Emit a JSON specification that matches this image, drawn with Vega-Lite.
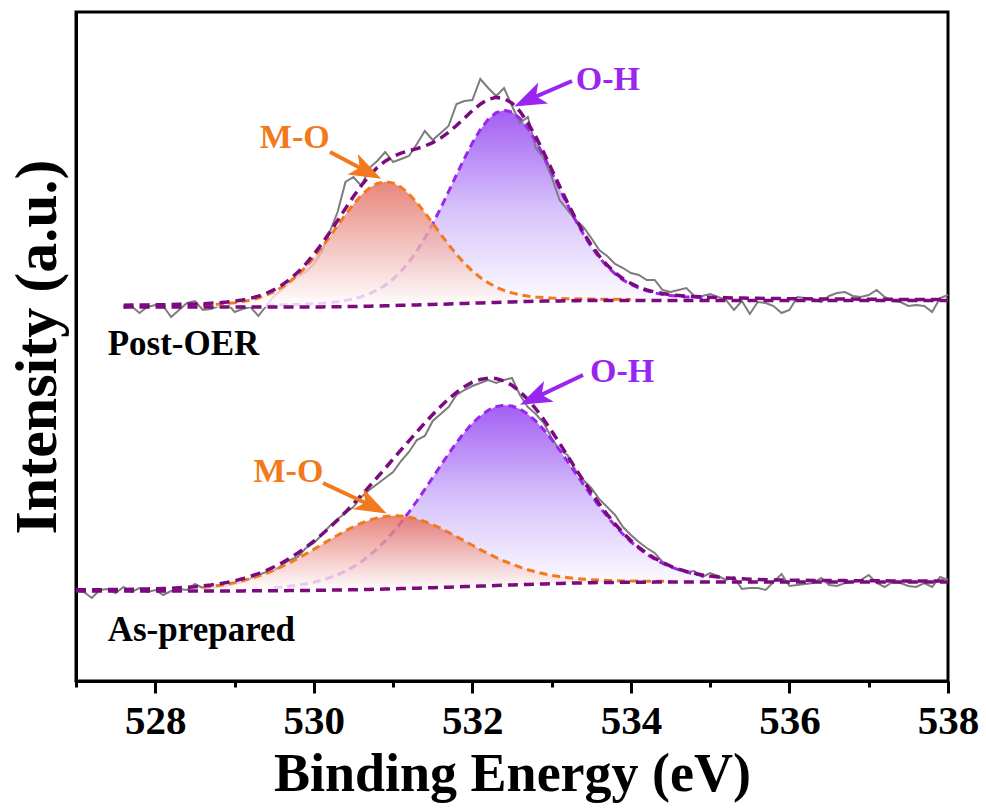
{
"$schema": "https://vega.github.io/schema/vega-lite/v6.json",
"width": 872, "height": 669,
"autosize": {"type": "none"},
"padding": {"left": 76, "top": 12, "right": 38, "bottom": 130},
"background": "white",
"config": {
  "view": {"stroke": "black", "strokeWidth": 3},
  "font": "Liberation Serif",
  "axis": {"domainColor": "black", "domainWidth": 3, "tickColor": "black", "tickWidth": 3, "grid": false,
           "labelFont": "Liberation Serif", "labelFontWeight": "bold", "labelFontSize": 41, "labelColor": "black",
           "titleFont": "Liberation Serif", "titleFontWeight": "bold", "titleColor": "black"}
},
"datasets": {
"fit": [
{"s":"P","e":527.6,"raw":373,"bg":374,"env":375.8},
{"s":"P","e":527.7,"raw":375,"bg":374,"env":375.9},
{"s":"P","e":527.8,"raw":368,"bg":374,"env":376.0},
{"s":"P","e":527.9,"raw":374,"bg":374,"env":376.1},
{"s":"P","e":528.0,"raw":376,"bg":374,"env":376.2},
{"s":"P","e":528.1,"raw":375,"bg":374,"env":376.3},
{"s":"P","e":528.2,"raw":364,"bg":374,"env":376.4},
{"s":"P","e":528.3,"raw":371,"bg":374,"env":376.7},
{"s":"P","e":528.4,"raw":378,"bg":374,"env":376.8},
{"s":"P","e":528.5,"raw":380,"bg":374,"env":377.1},
{"s":"P","e":528.6,"raw":371,"bg":374,"mo":376.1,"env":377.3},
{"s":"P","e":528.7,"raw":372,"bg":374,"mo":376.5,"env":377.8},
{"s":"P","e":528.8,"raw":375,"bg":374,"mo":376.9,"env":378.2},
{"s":"P","e":528.9,"raw":379,"bg":374,"mo":377.5,"env":378.9},
{"s":"P","e":529.0,"raw":369,"bg":374,"mo":378.3,"env":379.8},
{"s":"P","e":529.1,"raw":372,"bg":374,"mo":379.4,"env":381.0},
{"s":"P","e":529.2,"raw":374,"bg":374,"mo":381.0,"env":382.7},
{"s":"P","e":529.3,"raw":365,"bg":374,"mo":383.0,"env":384.8},
{"s":"P","e":529.4,"raw":375,"bg":374,"mo":385.8,"oh":375.9,"env":387.7},
{"s":"P","e":529.5,"raw":385,"bg":374,"mo":389.3,"oh":376.0,"env":391.3},
{"s":"P","e":529.6,"raw":391,"bg":374,"mo":393.9,"oh":376.2,"env":396.1},
{"s":"P","e":529.7,"raw":399,"bg":374,"mo":399.5,"oh":376.4,"env":401.9},
{"s":"P","e":529.8,"raw":405,"bg":374,"mo":406.3,"oh":376.6,"env":408.9},
{"s":"P","e":529.9,"raw":409,"bg":374,"mo":414.2,"oh":376.9,"env":417.1},
{"s":"P","e":530.0,"raw":417,"bg":374.1,"mo":423.4,"oh":377.3,"env":426.6},
{"s":"P","e":530.1,"raw":429,"bg":374.1,"mo":433.5,"oh":377.7,"env":437.1},
{"s":"P","e":530.2,"raw":449,"bg":374.2,"mo":444.3,"oh":378.4,"env":448.5},
{"s":"P","e":530.3,"raw":469,"bg":374.3,"mo":455.5,"oh":379.3,"env":460.5},
{"s":"P","e":530.4,"raw":499,"bg":374.4,"mo":466.5,"oh":380.5,"env":472.6},
{"s":"P","e":530.5,"raw":504,"bg":374.5,"mo":476.8,"oh":382.1,"env":484.4},
{"s":"P","e":530.6,"raw":495,"bg":374.7,"mo":485.9,"oh":384.3,"env":495.5},
{"s":"P","e":530.7,"raw":513,"bg":374.8,"mo":492.9,"oh":387.2,"env":505.3},
{"s":"P","e":530.8,"raw":520,"bg":375.0,"mo":497.5,"oh":391.0,"env":513.5},
{"s":"P","e":530.9,"raw":529,"bg":375.2,"mo":499.2,"oh":395.8,"env":519.8},
{"s":"P","e":531.0,"raw":519,"bg":375.4,"mo":497.9,"oh":402.0,"env":524.5},
{"s":"P","e":531.1,"raw":522,"bg":375.7,"mo":493.8,"oh":409.8,"env":527.9},
{"s":"P","e":531.2,"raw":525,"bg":375.9,"mo":487.1,"oh":419.1,"env":530.3},
{"s":"P","e":531.3,"raw":537,"bg":376.1,"mo":478.4,"oh":430.1,"env":532.4},
{"s":"P","e":531.4,"raw":550,"bg":376.3,"mo":468.4,"oh":442.8,"env":534.9},
{"s":"P","e":531.5,"raw":541,"bg":376.6,"mo":457.8,"oh":457.2,"env":538.4},
{"s":"P","e":531.6,"raw":548,"bg":376.8,"mo":446.9,"oh":472.8,"env":542.9},
{"s":"P","e":531.7,"raw":555,"bg":377.0,"mo":436.4,"oh":489.3,"env":548.7},
{"s":"P","e":531.8,"raw":577,"bg":377.3,"mo":426.6,"oh":506.2,"env":555.5},
{"s":"P","e":531.9,"raw":580,"bg":377.5,"mo":417.7,"oh":522.7,"env":562.9},
{"s":"P","e":532.0,"raw":581,"bg":377.8,"mo":410.1,"oh":538.1,"env":570.4},
{"s":"P","e":532.1,"raw":602,"bg":378.0,"mo":403.5,"oh":551.3,"env":576.8},
{"s":"P","e":532.2,"raw":593,"bg":378.3,"mo":398.2,"oh":561.7,"env":581.6},
{"s":"P","e":532.3,"raw":585,"bg":378.5,"mo":393.8,"oh":568.3,"env":583.6},
{"s":"P","e":532.4,"raw":593,"bg":378.8,"mo":390.6,"oh":570.8,"env":582.6},
{"s":"P","e":532.5,"raw":575,"bg":379.1,"mo":388.1,"oh":568.9,"env":577.9},
{"s":"P","e":532.6,"raw":558,"bg":379.3,"mo":386.3,"oh":562.7,"env":569.7},
{"s":"P","e":532.7,"raw":564,"bg":379.5,"mo":384.9,"oh":552.8,"env":558.2},
{"s":"P","e":532.8,"raw":533,"bg":379.7,"mo":384.0,"oh":540.0,"env":544.3},
{"s":"P","e":532.9,"raw":523,"bg":379.9,"mo":383.4,"oh":525.1,"env":528.6},
{"s":"P","e":533.0,"raw":504,"bg":380.0,"mo":382.9,"oh":508.9,"env":511.8},
{"s":"P","e":533.1,"raw":481,"bg":380.1,"mo":382.6,"oh":492.4,"env":494.9},
{"s":"P","e":533.2,"raw":471,"bg":380.2,"mo":382.3,"oh":476.2,"env":478.3},
{"s":"P","e":533.3,"raw":461,"bg":380.3,"mo":382.2,"oh":460.9,"env":462.8},
{"s":"P","e":533.4,"raw":454,"bg":380.4,"mo":382.1,"oh":446.9,"env":448.6},
{"s":"P","e":533.5,"raw":443,"bg":380.4,"mo":382.0,"oh":434.4,"env":436.0},
{"s":"P","e":533.6,"raw":431,"bg":380.4,"mo":381.8,"oh":423.6,"env":425.0},
{"s":"P","e":533.7,"raw":425,"bg":380.5,"mo":381.8,"oh":414.6,"env":415.9},
{"s":"P","e":533.8,"raw":417,"bg":380.5,"mo":381.7,"oh":407.1,"env":408.3},
{"s":"P","e":533.9,"raw":413,"bg":380.5,"mo":381.7,"oh":401.1,"env":402.3},
{"s":"P","e":534.0,"raw":408,"bg":380.5,"mo":381.6,"oh":396.5,"env":397.6},
{"s":"P","e":534.1,"raw":406,"bg":380.5,"oh":392.9,"env":393.9},
{"s":"P","e":534.2,"raw":401,"bg":380.5,"oh":390.1,"env":391.1},
{"s":"P","e":534.3,"raw":401,"bg":380.5,"oh":388.1,"env":389.0},
{"s":"P","e":534.4,"raw":391,"bg":380.5,"oh":386.6,"env":387.5},
{"s":"P","e":534.5,"raw":389,"bg":380.5,"oh":385.5,"env":386.3},
{"s":"P","e":534.6,"raw":391,"bg":380.5,"oh":384.7,"env":385.5},
{"s":"P","e":534.7,"raw":393,"bg":380.5,"oh":384.1,"env":384.8},
{"s":"P","e":534.8,"raw":385,"bg":380.5,"oh":383.7,"env":384.4},
{"s":"P","e":534.9,"raw":385,"bg":380.5,"oh":383.4,"env":384.1},
{"s":"P","e":535.0,"raw":387,"bg":380.5,"oh":383.1,"env":383.7},
{"s":"P","e":535.1,"raw":384,"bg":380.5,"env":383.5},
{"s":"P","e":535.2,"raw":381,"bg":380.5,"env":383.3},
{"s":"P","e":535.3,"raw":371,"bg":380.5,"env":383.0},
{"s":"P","e":535.4,"raw":380,"bg":380.5,"env":382.9},
{"s":"P","e":535.5,"raw":367,"bg":380.5,"env":382.8},
{"s":"P","e":535.6,"raw":379,"bg":380.5,"env":382.7},
{"s":"P","e":535.7,"raw":378,"bg":380.5,"env":382.6},
{"s":"P","e":535.8,"raw":375,"bg":380.5,"env":382.5},
{"s":"P","e":535.9,"raw":368,"bg":380.5,"env":382.4},
{"s":"P","e":536.0,"raw":371,"bg":380.5,"env":382.3},
{"s":"P","e":536.1,"raw":384,"bg":380.5,"env":382.3},
{"s":"P","e":536.2,"raw":383,"bg":380.5,"env":382.2},
{"s":"P","e":536.3,"raw":382,"bg":380.5,"env":382.1},
{"s":"P","e":536.4,"raw":379,"bg":380.5,"env":382.1},
{"s":"P","e":536.5,"raw":385,"bg":380.5,"env":382.0},
{"s":"P","e":536.6,"raw":388,"bg":380.5,"env":382.0},
{"s":"P","e":536.7,"raw":389,"bg":380.5,"env":381.9},
{"s":"P","e":536.8,"raw":385,"bg":380.5,"env":381.9},
{"s":"P","e":536.9,"raw":384,"bg":380.5,"env":381.8},
{"s":"P","e":537.0,"raw":386,"bg":380.5,"env":381.8},
{"s":"P","e":537.1,"raw":391,"bg":380.5,"env":381.7},
{"s":"P","e":537.2,"raw":384,"bg":380.5,"env":381.7},
{"s":"P","e":537.3,"raw":380,"bg":380.5,"env":381.7},
{"s":"P","e":537.4,"raw":379,"bg":380.5,"env":381.6},
{"s":"P","e":537.5,"raw":375,"bg":380.5,"env":381.6},
{"s":"P","e":537.6,"raw":376,"bg":380.5,"env":381.6},
{"s":"P","e":537.7,"raw":375,"bg":380.5,"env":381.5},
{"s":"P","e":537.8,"raw":369,"bg":380.5,"env":381.5},
{"s":"P","e":537.9,"raw":383,"bg":380.5,"env":381.5},
{"s":"P","e":538.0,"raw":386,"bg":380.5,"env":381.4},
{"s":"A","e":527.0,"raw":91,"bg":90,"env":91.2},
{"s":"A","e":527.1,"raw":89,"bg":90,"env":91.2},
{"s":"A","e":527.2,"raw":83,"bg":90,"env":91.3},
{"s":"A","e":527.3,"raw":91,"bg":90,"env":91.3},
{"s":"A","e":527.4,"raw":92,"bg":90,"env":91.4},
{"s":"A","e":527.5,"raw":88,"bg":90,"env":91.5},
{"s":"A","e":527.6,"raw":94,"bg":90,"env":91.6},
{"s":"A","e":527.7,"raw":89,"bg":90,"env":91.8},
{"s":"A","e":527.8,"raw":93,"bg":90,"env":91.9},
{"s":"A","e":527.9,"raw":89,"bg":90,"env":92.1},
{"s":"A","e":528.0,"raw":91,"bg":90,"env":92.2},
{"s":"A","e":528.1,"raw":86,"bg":90,"env":92.5},
{"s":"A","e":528.2,"raw":90,"bg":90,"env":92.8},
{"s":"A","e":528.3,"raw":92,"bg":90,"env":93.2},
{"s":"A","e":528.4,"raw":91,"bg":90,"env":93.7},
{"s":"A","e":528.5,"raw":97,"bg":90,"env":94.3},
{"s":"A","e":528.6,"raw":93,"bg":90,"mo":93.7,"env":95.1},
{"s":"A","e":528.7,"raw":93,"bg":90,"mo":94.5,"env":96.0},
{"s":"A","e":528.8,"raw":94,"bg":90,"mo":95.6,"env":97.1},
{"s":"A","e":528.9,"raw":95,"bg":90,"mo":96.8,"env":98.5},
{"s":"A","e":529.0,"raw":97,"bg":90.1,"mo":98.4,"env":100.2},
{"s":"A","e":529.1,"raw":99,"bg":90.1,"mo":100.2,"env":102.2},
{"s":"A","e":529.2,"raw":102,"bg":90.2,"mo":102.5,"env":104.7},
{"s":"A","e":529.3,"raw":106,"bg":90.2,"mo":104.9,"env":107.3},
{"s":"A","e":529.4,"raw":109,"bg":90.2,"mo":107.7,"env":110.5},
{"s":"A","e":529.5,"raw":110,"bg":90.3,"mo":111.0,"oh":93.5,"env":114.2},
{"s":"A","e":529.6,"raw":116,"bg":90.3,"mo":114.5,"oh":94.1,"env":118.3},
{"s":"A","e":529.7,"raw":121,"bg":90.4,"mo":118.4,"oh":94.9,"env":122.9},
{"s":"A","e":529.8,"raw":124,"bg":90.5,"mo":122.6,"oh":95.9,"env":128.0},
{"s":"A","e":529.9,"raw":133,"bg":90.6,"mo":127.1,"oh":97.2,"env":133.7},
{"s":"A","e":530.0,"raw":138,"bg":90.6,"mo":131.7,"oh":98.7,"env":139.8},
{"s":"A","e":530.1,"raw":146,"bg":90.8,"mo":136.5,"oh":100.8,"env":146.5},
{"s":"A","e":530.2,"raw":155,"bg":90.9,"mo":141.2,"oh":103.3,"env":153.6},
{"s":"A","e":530.3,"raw":162,"bg":91.0,"mo":145.8,"oh":106.2,"env":161.0},
{"s":"A","e":530.4,"raw":168,"bg":91.1,"mo":150.2,"oh":109.8,"env":168.9},
{"s":"A","e":530.5,"raw":174,"bg":91.3,"mo":154.3,"oh":114.3,"env":177.3},
{"s":"A","e":530.6,"raw":184,"bg":91.4,"mo":157.8,"oh":119.3,"env":185.7},
{"s":"A","e":530.7,"raw":191,"bg":91.6,"mo":160.8,"oh":125.4,"env":194.6},
{"s":"A","e":530.8,"raw":197,"bg":91.8,"mo":163.1,"oh":132.3,"env":203.6},
{"s":"A","e":530.9,"raw":203,"bg":92.0,"mo":164.6,"oh":140.1,"env":212.7},
{"s":"A","e":531.0,"raw":209,"bg":92.2,"mo":165.2,"oh":148.9,"env":221.9},
{"s":"A","e":531.1,"raw":220,"bg":92.4,"mo":165.0,"oh":158.5,"env":231.1},
{"s":"A","e":531.2,"raw":229,"bg":92.6,"mo":163.9,"oh":168.9,"env":240.2},
{"s":"A","e":531.3,"raw":241,"bg":92.8,"mo":162.0,"oh":180.0,"env":249.2},
{"s":"A","e":531.4,"raw":245,"bg":93.1,"mo":159.5,"oh":191.7,"env":258.1},
{"s":"A","e":531.5,"raw":260,"bg":93.3,"mo":156.3,"oh":203.5,"env":266.5},
{"s":"A","e":531.6,"raw":267,"bg":93.6,"mo":152.7,"oh":215.5,"env":274.6},
{"s":"A","e":531.7,"raw":274,"bg":93.8,"mo":148.6,"oh":227.2,"env":282.0},
{"s":"A","e":531.8,"raw":286,"bg":94.1,"mo":144.4,"oh":238.4,"env":288.7},
{"s":"A","e":531.9,"raw":291,"bg":94.4,"mo":140.1,"oh":248.6,"env":294.3},
{"s":"A","e":532.0,"raw":295,"bg":94.7,"mo":135.8,"oh":257.7,"env":298.8},
{"s":"A","e":532.1,"raw":298,"bg":94.9,"mo":131.4,"oh":265.1,"env":301.6},
{"s":"A","e":532.2,"raw":301,"bg":95.2,"mo":127.3,"oh":270.8,"env":302.9},
{"s":"A","e":532.3,"raw":298,"bg":95.5,"mo":123.5,"oh":274.4,"env":302.4},
{"s":"A","e":532.4,"raw":301,"bg":95.8,"mo":120.0,"oh":275.8,"env":300.0},
{"s":"A","e":532.5,"raw":303,"bg":96.1,"mo":116.8,"oh":275.0,"env":295.7},
{"s":"A","e":532.6,"raw":286,"bg":96.4,"mo":113.9,"oh":272.0,"env":289.5},
{"s":"A","e":532.7,"raw":274,"bg":96.6,"mo":111.3,"oh":266.8,"env":281.5},
{"s":"A","e":532.8,"raw":267,"bg":96.9,"mo":109.2,"oh":259.9,"env":272.2},
{"s":"A","e":532.9,"raw":258,"bg":97.1,"mo":107.2,"oh":251.3,"env":261.4},
{"s":"A","e":533.0,"raw":243,"bg":97.4,"mo":105.7,"oh":241.7,"env":250.0},
{"s":"A","e":533.1,"raw":231,"bg":97.6,"mo":104.4,"oh":231.0,"env":237.8},
{"s":"A","e":533.2,"raw":226,"bg":97.8,"mo":103.4,"oh":219.7,"env":225.3},
{"s":"A","e":533.3,"raw":211,"bg":98.0,"mo":102.5,"oh":208.2,"env":212.7},
{"s":"A","e":533.4,"raw":201,"bg":98.1,"mo":101.8,"oh":196.7,"env":200.4},
{"s":"A","e":533.5,"raw":193,"bg":98.3,"mo":101.3,"oh":185.5,"env":188.5},
{"s":"A","e":533.6,"raw":182,"bg":98.4,"mo":100.9,"oh":174.7,"env":177.2},
{"s":"A","e":533.7,"raw":174,"bg":98.5,"mo":100.5,"oh":164.6,"env":166.6},
{"s":"A","e":533.8,"raw":166,"bg":98.6,"mo":100.3,"oh":155.3,"env":157.0},
{"s":"A","e":533.9,"raw":154,"bg":98.7,"mo":100.1,"oh":146.8,"env":148.2},
{"s":"A","e":534.0,"raw":146,"bg":98.7,"mo":99.9,"oh":139.2,"env":140.4},
{"s":"A","e":534.1,"raw":139,"bg":98.8,"mo":99.9,"oh":132.6,"env":133.7},
{"s":"A","e":534.2,"raw":133,"bg":98.8,"mo":99.8,"oh":126.7,"env":127.7},
{"s":"A","e":534.3,"raw":128,"bg":98.9,"mo":99.8,"oh":121.9,"env":122.8},
{"s":"A","e":534.4,"raw":119,"bg":98.9,"mo":99.7,"oh":117.6,"env":118.4},
{"s":"A","e":534.5,"raw":115,"bg":98.9,"mo":99.6,"oh":114.1,"env":114.8},
{"s":"A","e":534.6,"raw":111,"bg":99,"oh":111.4,"env":112.0},
{"s":"A","e":534.7,"raw":109,"bg":99,"oh":109.0,"env":109.6},
{"s":"A","e":534.8,"raw":110,"bg":99,"oh":107.1,"env":107.7},
{"s":"A","e":534.9,"raw":104,"bg":99,"oh":105.6,"env":106.1},
{"s":"A","e":535.0,"raw":108,"bg":99,"oh":104.4,"env":104.9},
{"s":"A","e":535.1,"raw":105,"bg":99,"env":104.0},
{"s":"A","e":535.2,"raw":101,"bg":99,"env":103.2},
{"s":"A","e":535.3,"raw":104,"bg":99,"env":102.6},
{"s":"A","e":535.4,"raw":92,"bg":99,"env":102.2},
{"s":"A","e":535.5,"raw":93,"bg":99,"env":101.8},
{"s":"A","e":535.6,"raw":93,"bg":99,"env":101.6},
{"s":"A","e":535.7,"raw":91,"bg":99,"env":101.3},
{"s":"A","e":535.8,"raw":99,"bg":99,"env":101.1},
{"s":"A","e":535.9,"raw":107,"bg":99,"env":101.0},
{"s":"A","e":536.0,"raw":95,"bg":99,"env":100.8},
{"s":"A","e":536.1,"raw":96,"bg":99,"env":100.8},
{"s":"A","e":536.2,"raw":97,"bg":99,"env":100.7},
{"s":"A","e":536.3,"raw":98,"bg":99,"env":100.6},
{"s":"A","e":536.4,"raw":103,"bg":99,"env":100.5},
{"s":"A","e":536.5,"raw":96,"bg":99,"env":100.5},
{"s":"A","e":536.6,"raw":95,"bg":99,"env":100.4},
{"s":"A","e":536.7,"raw":98,"bg":99,"env":100.4},
{"s":"A","e":536.8,"raw":99,"bg":99,"env":100.3},
{"s":"A","e":536.9,"raw":101,"bg":99,"env":100.3},
{"s":"A","e":537.0,"raw":106,"bg":99,"env":100.2},
{"s":"A","e":537.1,"raw":98,"bg":99,"env":100.2},
{"s":"A","e":537.2,"raw":94,"bg":99,"env":100.2},
{"s":"A","e":537.3,"raw":99,"bg":99,"env":100.1},
{"s":"A","e":537.4,"raw":98,"bg":99,"env":100.1},
{"s":"A","e":537.5,"raw":95,"bg":99,"env":100.1},
{"s":"A","e":537.6,"raw":94,"bg":99,"env":100.0},
{"s":"A","e":537.7,"raw":98,"bg":99,"env":100.0},
{"s":"A","e":537.8,"raw":94,"bg":99,"env":100.0},
{"s":"A","e":537.9,"raw":104,"bg":99,"env":100.0},
{"s":"A","e":538.0,"raw":101,"bg":99,"env":99.9}
],
"peaks": [
{"t":"M-O","k":"MO","e":529.76,"v":533},
{"t":"O-H","k":"OH","e":533.71,"v":591},
{"t":"M-O","k":"MO","e":529.68,"v":199},
{"t":"O-H","k":"OH","e":533.89,"v":299}
],
"samples": [
{"t":"Post-OER","k":"S","e":527.40,"v":326},
{"t":"As-prepared","k":"S","e":527.40,"v":40}
],
"arrows": [
{"k":"MO","e":530.204,"v":529,"e2":530.670,"v2":509.5},
{"k":"OH","e":533.257,"v":600,"e2":532.711,"v2":581.3},
{"k":"MO","e":530.116,"v":198,"e2":530.740,"v2":174.8},
{"k":"OH","e":533.396,"v":306,"e2":532.783,"v2":282.9}
]
},
"encoding": {
  "x": {"field": "e", "type": "quantitative",
        "scale": {"domain": [527, 538], "nice": false, "zero": false},
        "axis": {"title": "Binding Energy (eV)", "values": [527,528,529,530,531,532,533,534,535,536,537,538],
                 "tickSize": {"condition": {"test": "datum.value % 2 === 0", "value": 12}, "value": 6},
                 "labelExpr": "datum.value % 2 === 0 ? datum.label : ''",
                 "labelFlush": false, "labelOverlap": false, "labelPadding": 8,
                 "titleFontSize": 54, "titlePadding": 6}}
},
"layer": [
  {"data": {"name": "fit"},
   "mark": {"type": "area", "color": {"gradient": "linear", "x1": 0, "y1": 1, "x2": 0, "y2": 0,
            "stops": [{"offset": 0, "color": "#ffffff"}, {"offset": 0.5, "color": "#d6c2fb"}, {"offset": 1, "color": "#a35ef3"}]}},
   "encoding": {
     "y": {"field": "oh", "type": "quantitative", "scale": {"domain": [0, 669], "nice": false, "zero": false},
           "axis": {"title": "Intensity (a.u.)", "labels": false, "ticks": false, "titleFontSize": 60, "titlePadding": 8}},
     "y2": {"field": "bg"},
     "detail": {"field": "s"}}},
  {"data": {"name": "fit"},
   "mark": {"type": "line", "color": "#7d7d7d", "strokeWidth": 2},
   "encoding": {"y": {"field": "raw", "type": "quantitative"}, "detail": {"field": "s"}}},
  {"data": {"name": "fit"},
   "mark": {"type": "line", "color": "#9b25f0", "strokeWidth": 3, "strokeDash": [8, 5]},
   "encoding": {"y": {"field": "oh", "type": "quantitative"}, "detail": {"field": "s"}}},
  {"data": {"name": "fit"},
   "mark": {"type": "area", "opacity": 0.8, "color": {"gradient": "linear", "x1": 0, "y1": 1, "x2": 0, "y2": 0,
            "stops": [{"offset": 0, "color": "#ffffff"}, {"offset": 1, "color": "#e2685c"}]}},
   "encoding": {"y": {"field": "mo", "type": "quantitative"}, "y2": {"field": "bg"}, "detail": {"field": "s"}}},
  {"data": {"name": "fit"},
   "mark": {"type": "line", "color": "#f2791c", "strokeWidth": 3, "strokeDash": [8, 5]},
   "encoding": {"y": {"field": "mo", "type": "quantitative"}, "detail": {"field": "s"}}},
  {"data": {"name": "fit"},
   "mark": {"type": "line", "color": "#7a0a7e", "strokeWidth": 3.5, "strokeDash": [10, 6]},
   "encoding": {"y": {"field": "bg", "type": "quantitative"}, "detail": {"field": "s"}}},
  {"data": {"name": "fit"},
   "mark": {"type": "line", "color": "#7a0a7e", "strokeWidth": 3.5, "strokeDash": [10, 6]},
   "encoding": {"y": {"field": "env", "type": "quantitative"}, "detail": {"field": "s"}}},
  {"data": {"name": "arrows"},
   "mark": {"type": "rule", "strokeWidth": 4},
   "encoding": {"y": {"field": "v", "type": "quantitative"}, "x2": {"field": "e2"}, "y2": {"field": "v2"},
     "color": {"field": "k", "type": "nominal", "scale": {"domain": ["MO", "OH", "S"], "range": ["#f2791c", "#9b25f0", "#000000"]}, "legend": null}}},
  {"data": {"name": "arrows"},
   "transform": [{"filter": "datum.k === 'MO'"}],
   "mark": {"type": "point", "shape": "M1,0L-1,-0.72L-0.5,0L-1,0.72Z", "filled": true, "size": 1024, "angle": 27, "opacity": 1},
   "encoding": {"x": {"field": "e2", "type": "quantitative"}, "y": {"field": "v2", "type": "quantitative"},
     "color": {"field": "k", "type": "nominal", "legend": null}}},
  {"data": {"name": "arrows"},
   "transform": [{"filter": "datum.k === 'OH'"}],
   "mark": {"type": "point", "shape": "M1,0L-1,-0.72L-0.5,0L-1,0.72Z", "filled": true, "size": 1024, "angle": 155, "opacity": 1},
   "encoding": {"x": {"field": "e2", "type": "quantitative"}, "y": {"field": "v2", "type": "quantitative"},
     "color": {"field": "k", "type": "nominal", "legend": null}}},
  {"data": {"name": "peaks"},
   "mark": {"type": "text", "font": "Liberation Serif", "fontWeight": "bold", "fontSize": 34, "align": "center", "baseline": "alphabetic"},
   "encoding": {"y": {"field": "v", "type": "quantitative"}, "text": {"field": "t"},
     "color": {"field": "k", "type": "nominal", "legend": null}}},
  {"data": {"name": "samples"},
   "mark": {"type": "text", "font": "Liberation Serif", "fontWeight": "bold", "fontSize": 35, "align": "left", "baseline": "alphabetic"},
   "encoding": {"y": {"field": "v", "type": "quantitative"}, "text": {"field": "t"},
     "color": {"field": "k", "type": "nominal", "legend": null}}}
]
}
